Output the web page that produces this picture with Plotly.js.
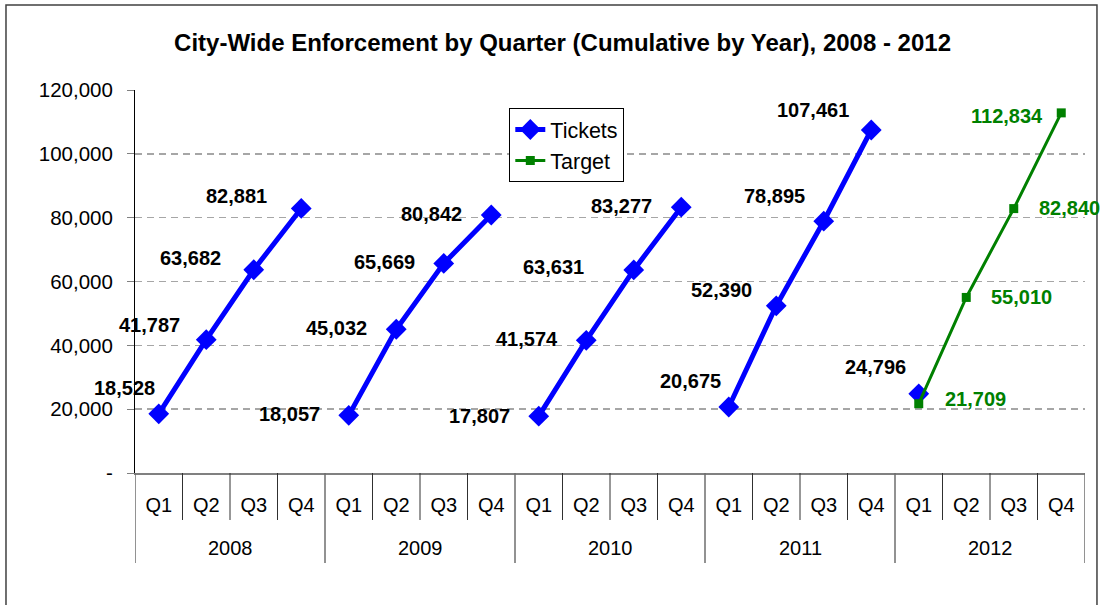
<!DOCTYPE html>
<html>
<head>
<meta charset="utf-8">
<script src="https://cdn.plot.ly/plotly-3.0.1.min.js"></script>
<style>
  html, body { margin: 0; padding: 0; background: #ffffff; }
  #chart { width: 1103px; height: 605px; }
</style>
</head>
<body>
<div id="chart"></div>
<script>
// ---------- data ----------
const years = ['2008', '2009', '2010', '2011', '2012'];
const quarters = ['Q1', 'Q2', 'Q3', 'Q4'];
const tickets2008 = [18528, 41787, 63682, 82881];
const tickets2009 = [18057, 45032, 65669, 80842];
const tickets2010 = [17807, 41574, 63631, 83277];
const tickets2011 = [20675, 52390, 78895, 107461];
const tickets2012 = [24796];
const target2012 = [21709, 55010, 82840, 112834];
const yTickVals = [0, 20000, 40000, 60000, 80000, 100000, 120000];
const yTickLabels = ['-', '20,000', '40,000', '60,000', '80,000', '100,000', '120,000'];

// ---------- label placement (pixel offsets from the point) ----------
const ticketLabelPlacement = [
  [-2, 26], [-24, 15], [-31, 12], [-32, 12],
  [-27, 1], [-27, 1], [-27, 1], [-27, 1],
  [-27, 0], [-26, 1], [-48, 3], [-27, 1],
  [-6, 26], [-22, 16], [-17, 25], [-20, 20],
  [-11, 27]
];
const targetLabelPlacement = [
  ['left', 24, 5], ['left', 23, 0], ['left', 23, 1], ['right', -16, -3]
];

// ---------- build traces ----------
const ticketYears = [tickets2008, tickets2009, tickets2010, tickets2011, tickets2012];
const tx = [], ty = [], tPts = [];
ticketYears.forEach((arr, yi) => {
  arr.forEach((v, qi) => {
    const xi = yi * quarters.length + qi;
    tx.push(xi); ty.push(v); tPts.push([xi, v]);
  });
  tx.push(yi * quarters.length + quarters.length - 0.5); ty.push(null);
});

const gx = [], gy = [];
target2012.forEach((v, qi) => {
  gx.push(4 * quarters.length + qi); gy.push(v);
});

const catTickVals = [], catTickText = [];
years.forEach((y, yi) => quarters.forEach((q, qi) => {
  catTickVals.push(yi * quarters.length + qi);
  catTickText.push(q);
}));
const nCat = catTickVals.length;

const fmt = v => v.toLocaleString('en-US');
const FAM = 'Liberation Sans, Arial, sans-serif';

const traces = [
  {
    x: tx, y: ty, type: 'scatter', mode: 'lines+markers', name: 'Tickets',
    line: { color: '#0000FF', width: 5 },
    marker: { symbol: 'diamond', size: 16, color: '#0000FF' },
    connectgaps: false, cliponaxis: false, hoverinfo: 'x+y'
  },
  {
    x: gx, y: gy, type: 'scatter', mode: 'lines+markers', name: 'Target',
    line: { color: '#008000', width: 3 },
    marker: { symbol: 'square', size: 9, color: '#008000' },
    cliponaxis: false, hoverinfo: 'x+y'
  }
];

// ---------- annotations ----------
const annotations = [];
const labelFont = { family: FAM, size: 20, color: '#000000', weight: 'bold' };
tPts.forEach((p, i) => {
  const pl = ticketLabelPlacement[i];
  annotations.push({
    x: p[0], y: p[1], xref: 'x', yref: 'y', text: '<b>' + fmt(p[1]) + '</b>',
    showarrow: false, xanchor: 'right', yanchor: 'middle',
    xshift: pl[0], yshift: pl[1], font: labelFont
  });
});
gx.forEach((xv, i) => {
  const pl = targetLabelPlacement[i];
  annotations.push({
    x: xv, y: gy[i], xref: 'x', yref: 'y', text: '<b>' + fmt(gy[i]) + '</b>',
    showarrow: false, xanchor: pl[0], yanchor: 'middle',
    xshift: pl[1], yshift: pl[2],
    font: Object.assign({}, labelFont, { color: '#008000' })
  });
});
// year labels (second category level)
years.forEach((y, yi) => {
  annotations.push({
    x: yi * quarters.length + (quarters.length - 1) / 2, y: -0.196,
    xref: 'x', yref: 'paper', text: y, showarrow: false,
    xanchor: 'center', yanchor: 'middle',
    font: { family: FAM, size: 20, color: '#000000' }
  });
});

// ---------- shapes: category dividers + chart border ----------
const shapes = [];
for (let b = 0; b <= nCat; b++) {
  const isYear = (b % quarters.length === 0);
  shapes.push({
    type: 'line', xref: 'x', yref: 'paper',
    x0: b - 0.5, x1: b - 0.5, y0: 0, y1: isYear ? -0.235 : -0.1227,
    line: { color: isYear ? '#6e6e6e' : '#303030', width: isYear ? 1.5 : 1 }
  });
}
shapes.push({
  type: 'rect', xref: 'paper', yref: 'paper',
  x0: -0.1358, x1: 1.0126, y0: -0.37, y1: 1.222,
  line: { color: '#404040', width: 1.5 }, fillcolor: 'rgba(0,0,0,0)', layer: 'below'
});

const layout = {
  width: 1103, height: 605,
  margin: { l: 135, r: 18, t: 90, b: 132 },
  paper_bgcolor: '#ffffff', plot_bgcolor: '#ffffff',
  font: { family: FAM, size: 20, color: '#000000' },
  title: {
    text: '<b>City-Wide Enforcement by Quarter (Cumulative by Year), 2008 - 2012</b>',
    x: 0.51, xanchor: 'center', y: 0.93, yanchor: 'middle',
    font: { family: FAM, size: 24, color: '#000000' }
  },
  showlegend: true,
  legend: {
    x: 0.394, xanchor: 'left', y: 0.953, yanchor: 'top',
    bgcolor: '#ffffff', bordercolor: '#000000', borderwidth: 1,
    font: { family: FAM, size: 21.5, color: '#000000' }
  },
  xaxis: {
    range: [-0.5, nCat - 0.5], fixedrange: true,
    tickmode: 'array', tickvals: catTickVals, ticktext: catTickText,
    ticks: '', showgrid: false, zeroline: false,
    showline: true, linecolor: '#808080', linewidth: 1.5,
    ticklabelstandoff: 13,
    tickfont: { family: FAM, size: 20, color: '#000000' }
  },
  yaxis: {
    range: [0, 120000], fixedrange: true,
    tickmode: 'array', tickvals: yTickVals, ticktext: yTickLabels,
    ticks: 'outside', ticklen: 7, tickcolor: '#808080', tickwidth: 1,
    showgrid: true, gridcolor: '#a6a6a6', gridwidth: 1.5, griddash: '7px,5px',
    zeroline: false, showline: true, linecolor: '#000000', linewidth: 1,
    ticklabelstandoff: 10,
    tickfont: { family: FAM, size: 20.5, color: '#000000' }
  },
  annotations: annotations,
  shapes: shapes
};

Plotly.newPlot('chart', traces, layout, { displayModeBar: false, staticPlot: true });
</script>
</body>
</html>
